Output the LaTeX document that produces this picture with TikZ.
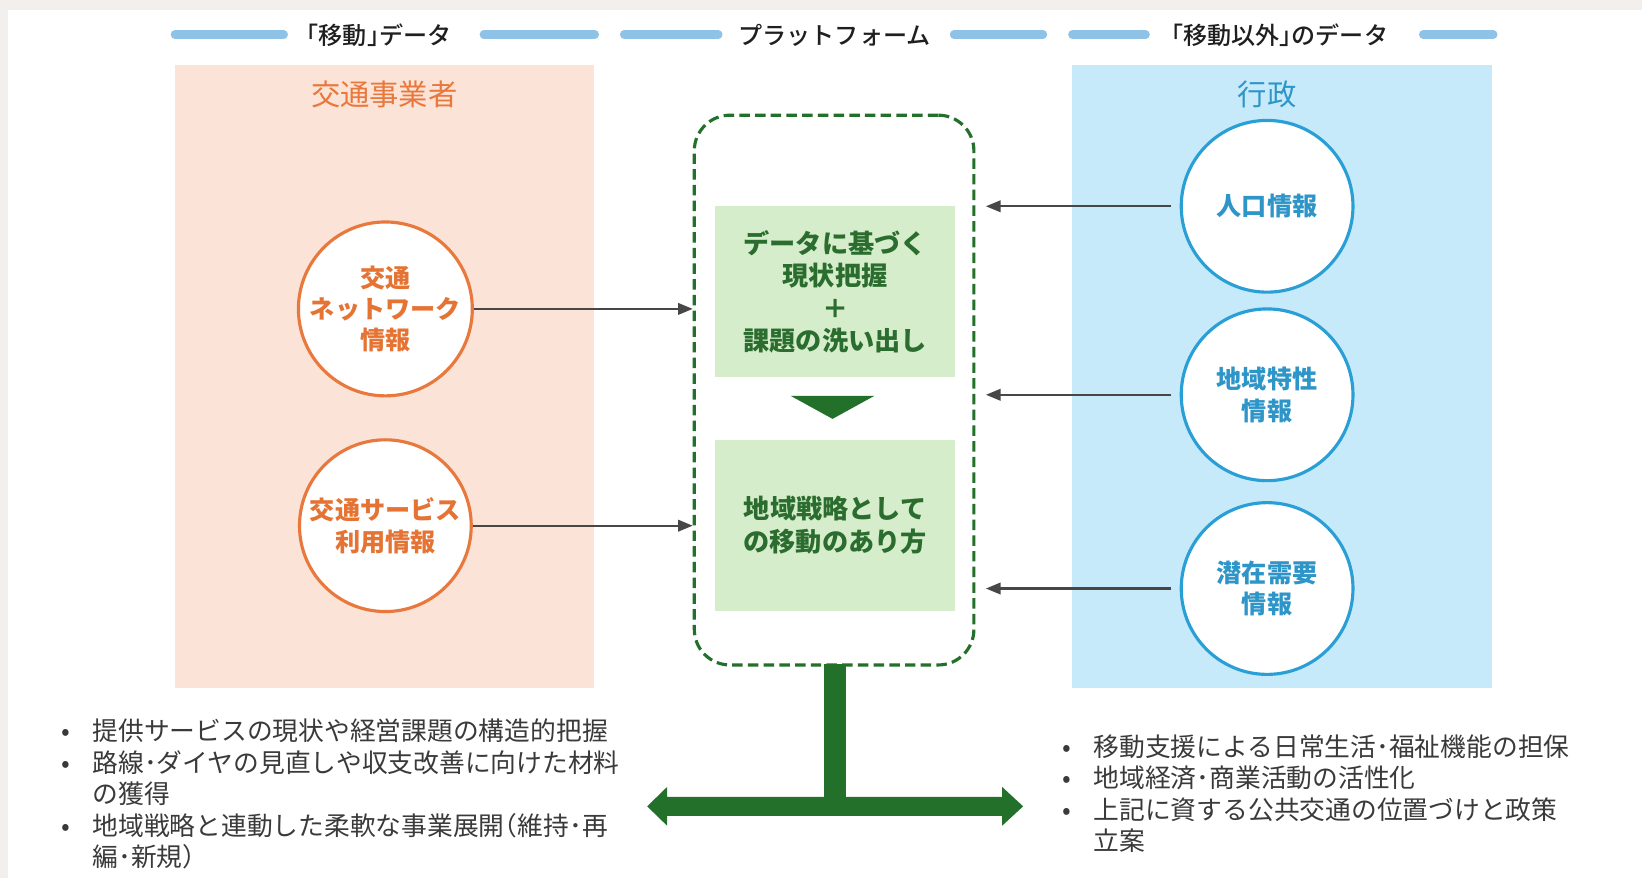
\documentclass[tikz,border=0pt]{standalone}
\usepackage{fontspec}
\setmainfont{Noto Sans CJK JP}
\IfFontExistsTF{Noto Sans CJK JP Medium}{\newfontfamily\medfont{Noto Sans CJK JP Medium}}{\newfontfamily\medfont{Noto Sans CJK JP}}
\usetikzlibrary{arrows.meta}
\definecolor{framegrey}{HTML}{F2EFEC}
\definecolor{orangeC}{HTML}{E8783C}
\definecolor{orangeT}{HTML}{E57434}
\definecolor{peach}{HTML}{FCE3D7}
\definecolor{skyfill}{HTML}{C7EAFA}
\definecolor{blueC}{HTML}{2A9FD6}
\definecolor{blueT}{HTML}{2D95C8}
\definecolor{gfill}{HTML}{D5EDCB}
\definecolor{dgreen}{HTML}{23702A}
\definecolor{gtext}{HTML}{2B6C2F}
\definecolor{barblue}{HTML}{8EC3E7}
\definecolor{arrgrey}{HTML}{474747}
\definecolor{txtdark}{HTML}{3A3A3A}
\newcommand{\lbr}[1]{\makebox[0.5em][r]{#1}}
\newcommand{\rbr}[1]{\makebox[0.5em][l]{#1}}
\begin{document}
\begin{tikzpicture}[x=0.5pt,y=-0.5pt,
  headbar/.style={line width=4pt,line cap=round,draw=barblue},
  headtext/.style={font=\medfont\fontsize{11.5}{13}\selectfont,text=black!88},
  paneltitle/.style={font=\fontsize{14}{16}\selectfont},
  ocirc/.style={circle,draw=orangeC,line width=1.5pt,fill=white,minimum size=82pt,inner sep=0pt,align=center,font=\fontsize{12}{15}\selectfont\bfseries,text=orangeT},
  bcirc/.style={circle,draw=blueC,line width=1.5pt,fill=white,minimum size=82pt,inner sep=0pt,align=center,font=\fontsize{12}{15}\selectfont\bfseries,text=blueT},
  platform/.style={draw=dgreen,line width=1.5pt,dash pattern=on 5pt off 2.5pt,rounded corners=17pt,minimum width=133.5pt,minimum height=262.5pt,inner sep=0pt},
  gbox/.style={fill=gfill,minimum width=114.5pt,minimum height=81.5pt,inner sep=0pt,align=center,font=\fontsize{12.5}{15.5}\selectfont\bfseries,text=gtext},
  feed/.style={draw=arrgrey,line width=1pt,-{Triangle[length=7pt,width=5.5pt]}},
  bullets/.style={anchor=north west,inner sep=0pt,font=\fontsize{12.3}{15}\selectfont,text=txtdark}
]
\useasboundingbox (0,0) rectangle (1568,838);
\fill[framegrey] (0,0) rectangle (1568,838);
\fill[white] (8,10) rectangle (1568,838);

% header
\draw[headbar] (167,33) -- (271,33);
\draw[headbar] (462,33) -- (568,33);
\draw[headbar] (596,33) -- (686,33);
\draw[headbar] (911,33) -- (996,33);
\draw[headbar] (1024,33) -- (1094,33);
\draw[headbar] (1359,33) -- (1426,33);
\node[headtext] (h1) at (362,34) {\lbr{「}移動\rbr{」}データ};
\node[headtext] (h2) at (797,34) {プラットフォーム};
\node[headtext] (h3) at (1222,34) {\lbr{「}移動以外\rbr{」}のデータ};

% panels
\fill[peach] (167,62) rectangle (567,657);
\fill[skyfill] (1024,62) rectangle (1425,657);
\node[paneltitle,text=orangeC] (t1) at (367,90) {交通事業者};
\node[paneltitle,text=blueT] (t2) at (1210,90) {行政};

% circles
\node[ocirc] (net) at (368,295) {交通\\ネットワーク\\情報};
\node[ocirc] (use) at (368,502) {交通サービス\\利用情報};
\node[bcirc] (pop) at (1210,197) {人口情報};
\node[bcirc] (reg) at (1210,377) {地域特性\\情報};
\node[bcirc] (dem) at (1210,562) {潜在需要\\情報};

% platform
\node[platform] (pf) at (796.5,372.5) {};
\node[gbox] (b1) at (797.5,278.5) {データに基づく\\現状把握\\＋\\課題の洗い出し};
\node[gbox] (b2) at (797.5,501.5) {地域戦略として\\の移動のあり方};
\fill[dgreen] (755,378) -- (835,378) -- (795,400) -- cycle;

% connectors
\draw[feed] (net.east) -- (net.east -| pf.west);
\draw[feed] (use.east) -- (use.east -| pf.west);
\draw[feed,shorten <=4pt,shorten >=5pt] (pop.west) -- (pop.west -| pf.east);
\draw[feed,shorten <=4pt,shorten >=5pt] (reg.west) -- (reg.west -| pf.east);
\draw[feed,shorten <=4pt,shorten >=5pt] (dem.west) -- (dem.west -| pf.east);

% T arrow
\fill[dgreen] (787,634) rectangle (808,770);
\fill[dgreen] (618,770) -- (637,751.5) -- (637,761) -- (957,761) -- (957,751.5) -- (977,770)
  -- (957,788.5) -- (957,779) -- (637,779) -- (637,788.5) -- cycle;

% bullets
\node[bullets] (lb) at (58,686) {\begin{tabular}{@{}p{15pt}@{}l@{}}
•&提供サービスの現状や経営課題の構造的把握\\
•&路線･ダイヤの見直しや収支改善に向けた材料\\
&の獲得\\
•&地域戦略と連動した柔軟な事業展開\lbr{（}維持･再\\
&編･新規\rbr{）}
\end{tabular}};
\node[bullets] (rb) at (1014,701) {\begin{tabular}{@{}p{15pt}@{}l@{}}
•&移動支援による日常生活･福祉機能の担保\\
•&地域経済･商業活動の活性化\\
•&上記に資する公共交通の位置づけと政策\\
&立案
\end{tabular}};
\end{tikzpicture}
\end{document}
